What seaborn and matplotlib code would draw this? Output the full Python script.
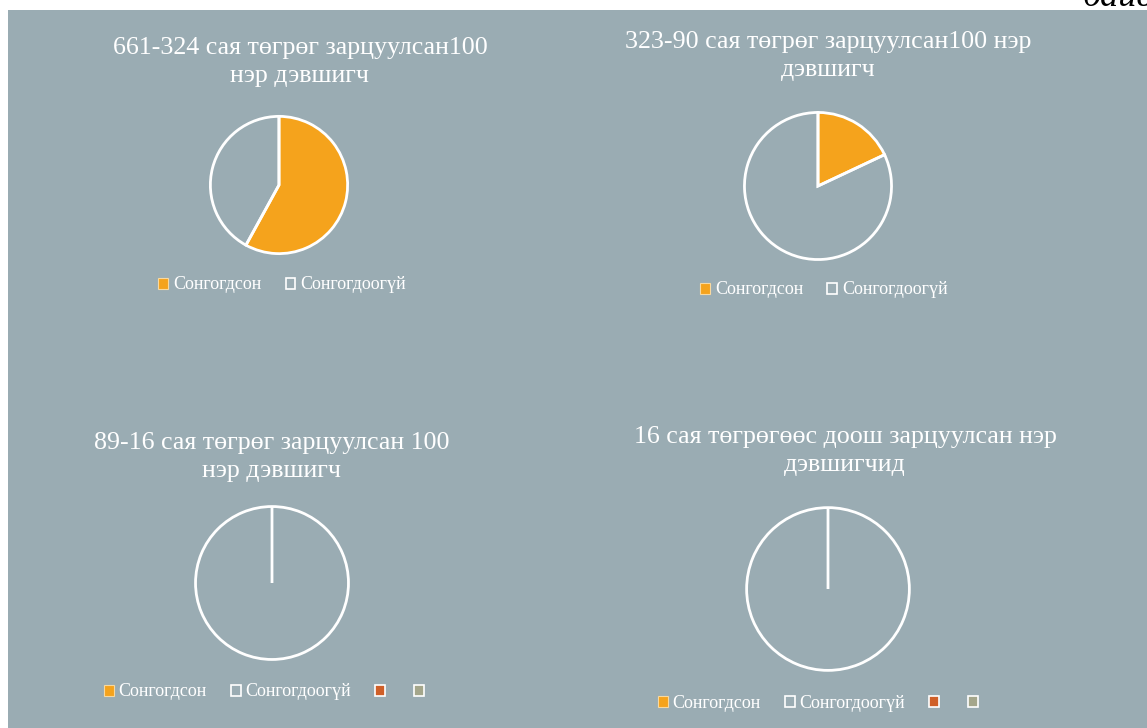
import numpy as np
import seaborn as sns
import matplotlib.pyplot as plt
from matplotlib.patches import Rectangle, Patch

sns.set_theme(style="white")
plt.rcParams['font.family'] = ['Liberation Serif', 'DejaVu Serif']

# chart data
titles = [
    "661-324 сая төгрөг зарцуулсан100\nнэр дэвшигч",
    "323-90 сая төгрөг зарцуулсан100 нэр\nдэвшигч",
    "89-16 сая төгрөг зарцуулсан 100\nнэр дэвшигч",
    "16 сая төгрөгөөс доош зарцуулсан нэр\nдэвшигчид",
]
labels = ["Сонгогдсон", "Сонгогдоогүй"]
selected = [58, 18, 0, 0]
not_selected = [42, 82, 100, 100]

W, H = 1147, 728
bg = "#9aacb3"
orange = "#f5a31c"
extra_cols = ["#cf5f28", "#a4a68b"]

fig = plt.figure(figsize=(W / 100, H / 100), dpi=100, facecolor="white")
fig.patches.append(Rectangle((8 / W, 0), 1 - 8 / W, 1 - 10 / H, transform=fig.transFigure,
                             facecolor=bg, edgecolor="none", zorder=-5))

# pixel layout: pie centre, radius, title centre, legend row
layout = [
    dict(c=(279, 185), r=70, t=(300, 62), leg=(282, 285), n=2),
    dict(c=(818, 186), r=75, t=(828, 56), leg=(824, 290), n=2),
    dict(c=(272, 583), r=78, t=(272, 457), leg=(266, 692), n=4),
    dict(c=(828, 589), r=83, t=(845, 451), leg=(820, 703), n=4),
]

for i, lay in enumerate(layout):
    cx, cy = lay["c"]
    r = lay["r"]
    ax = fig.add_axes([(cx - r) / W, 1 - (cy + r) / H, 2 * r / W, 2 * r / H])
    ax.set_facecolor("none")
    ax.pie([selected[i], not_selected[i]], colors=[orange, "none"], startangle=90,
           counterclock=False, radius=1,
           wedgeprops=dict(edgecolor="white", linewidth=2))
    ax.set_xlim(-1.02, 1.02)
    ax.set_ylim(-1.02, 1.02)
    ax.axis("off")

    tx, ty = lay["t"]
    fig.text(tx / W, 1 - ty / H, titles[i], ha="center", va="center", color="white",
             fontsize=18.7, linespacing=1.33)

    handles = [Patch(facecolor=orange, edgecolor="#f8d9a0", linewidth=0.8),
               Patch(facecolor="none", edgecolor="white", linewidth=1.2)]
    names = list(labels)
    if lay["n"] == 4:
        for col in extra_cols:
            handles.append(Patch(facecolor=col, edgecolor="white", linewidth=1.2))
            names.append("")
    lx, ly = lay["leg"]
    leg = fig.legend(handles, names, loc="center", bbox_to_anchor=(lx / W, 1 - ly / H),
                     ncol=lay["n"], frameon=False, fontsize=13, handlelength=0.55,
                     handleheight=0.55, handletextpad=0.25, columnspacing=1.35,
                     labelcolor="white")

fig.text(1152 / W, 1 - 6 / H, "байв", ha="right", va="baseline", fontsize=26,
         style="italic", color="black")

fig.savefig("out.png", dpi=100, facecolor="white")
